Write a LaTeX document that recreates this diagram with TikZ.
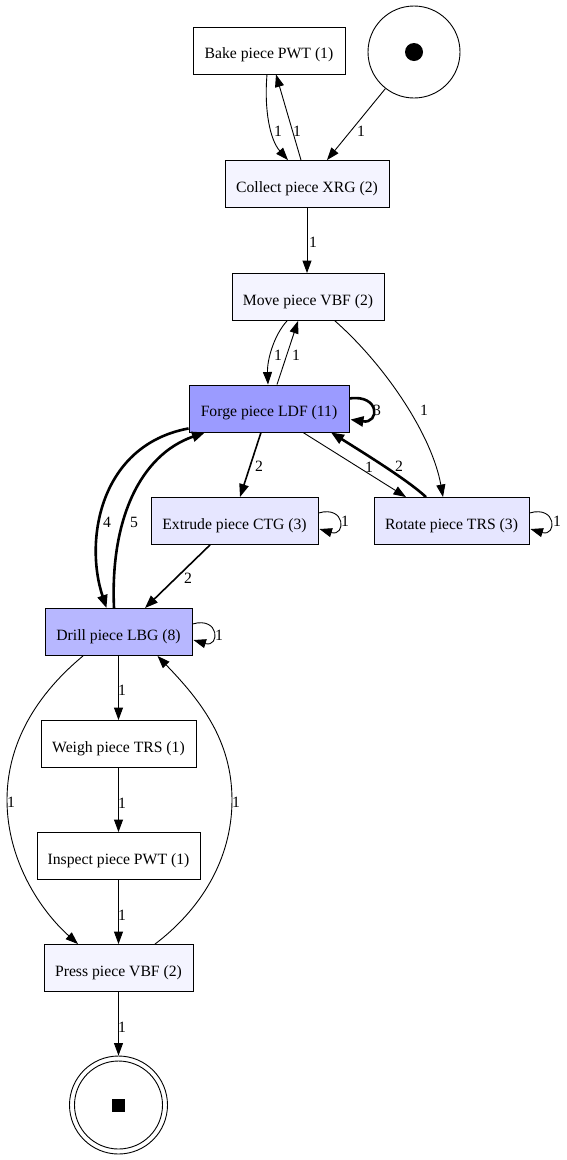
\documentclass[tikz,border=0pt]{standalone}
\usepackage{fontspec}
\setmainfont{Liberation Serif}
\usetikzlibrary{arrows.meta}
\definecolor{pale}{RGB}{244,244,255}
\definecolor{light}{RGB}{230,230,255}
\definecolor{drillblue}{RGB}{183,183,255}
\definecolor{forgeblue}{RGB}{155,155,255}
\begin{document}
\begin{tikzpicture}[x=1pt,y=-1pt,
  font=\fontsize{15.7}{18}\selectfont,
  trans/.style={draw,rectangle,line width=0.9pt,minimum height=47pt,inner sep=0pt,
    text height=16pt,text depth=0pt},
  place/.style={draw,circle,line width=0.9pt,inner sep=0pt},
  arc/.style={line width=0.9pt,-{Triangle[length=12.5pt,width=9pt]}},
  mid/.style={line width=1.6pt,-{Triangle[length=13pt,width=9.5pt]}},
  heavy/.style={line width=2.6pt,-{Triangle[length=13pt,width=10pt]}},
  lbl/.style={inner sep=0pt}]
\useasboundingbox (0,0) rectangle (567,1160);

% places and transitions
\node[trans,minimum width=152pt] (bake) at (269,50.5) {Bake piece PWT (1)};
\node[place,minimum size=92pt] (src) at (414,52) {};
\fill (src.center) circle (9pt);
\node[trans,fill=pale,minimum width=164pt] (collect) at (307,184) {Collect piece XRG (2)};
\node[trans,fill=pale,minimum width=152pt] (move) at (308,297) {Move piece VBF (2)};
\node[trans,fill=forgeblue,minimum width=160pt] (forge) at (269,408.5) {Forge piece LDF (11)};
\node[trans,fill=light,minimum width=167pt] (extrude) at (234.5,521) {Extrude piece CTG (3)};
\node[trans,fill=light,minimum width=155pt] (rotate) at (451.5,521) {Rotate piece TRS (3)};
\node[trans,fill=drillblue,minimum width=147pt] (drill) at (118.5,632) {Drill piece LBG (8)};
\node[trans,minimum width=155pt] (weigh) at (118.5,744) {Weigh piece TRS (1)};
\node[trans,minimum width=163pt] (inspect) at (118.5,856) {Inspect piece PWT (1)};
\node[trans,fill=pale,minimum width=149pt] (press) at (118.5,968) {Press piece VBF (2)};
\node[place,minimum size=98pt] (sink) at (118.5,1105) {};
\draw[line width=0.9pt] (sink.center) circle (44pt);
\fill ([xshift=-6.5pt,yshift=-6.5pt]sink.center) rectangle ([xshift=6.5pt,yshift=6.5pt]sink.center);

% arcs
\draw[arc] ([xshift=-2pt]bake.south) .. controls (264,110) and (270,140) .. ([xshift=-19pt]collect.north);
\draw[arc] ([xshift=-6pt]collect.north) -- ([xshift=7pt]bake.south);
\draw[arc] (src.232) -- ([xshift=20pt]collect.north);
\draw[arc] (collect.south) -- ([xshift=-1pt]move.north);
\draw[arc] ([xshift=-21pt]move.south) .. controls (274,335) and (267,360) .. ([xshift=-1pt]forge.north);
\draw[arc] ([xshift=8pt]forge.north) -- ([xshift=-10pt]move.south);
\draw[arc] ([xshift=27pt]move.south) .. controls (385,365) and (432,435) .. ([xshift=-8.5pt]rotate.north);
\draw[heavy] ([yshift=10pt]forge.east) .. controls (380,394) and (380,424) .. ([yshift=-11pt,xshift=1pt]forge.east);
\draw[mid] ([xshift=-8pt]forge.south) -- ([xshift=5.5pt]extrude.north);
\draw[arc] ([xshift=34pt]forge.south) -- ([xshift=-45.5pt]rotate.north);
\draw[heavy] ([xshift=-25.5pt]rotate.north) .. controls (410,482) and (372,458) .. ([xshift=62pt]forge.south);
\draw[heavy] ([yshift=4pt]forge.south west) .. controls (100,445) and (84,540) .. ([xshift=-12pt]drill.north);
\draw[heavy] ([xshift=-4.5pt]drill.north) .. controls (110,520) and (140,455) .. ([xshift=-64pt]forge.south);
\draw[arc] ([yshift=8pt]extrude.east) .. controls (346,505) and (346,537) .. ([yshift=-8pt,xshift=1pt]extrude.east);
\draw[arc] ([yshift=8pt]rotate.east) .. controls (557,505) and (557,537) .. ([yshift=-8pt,xshift=1pt]rotate.east);
\draw[mid] ([xshift=-24.5pt]extrude.south) -- ([xshift=26.5pt]drill.north);
\draw[arc] ([yshift=8pt]drill.east) .. controls (220,616) and (220,648) .. ([yshift=-8pt,xshift=1pt]drill.east);
\draw[arc] (drill.south) -- (weigh.north);
\draw[arc] (weigh.south) -- (inspect.north);
\draw[arc] (inspect.south) -- (press.north);
\draw[arc] (press.south) -- (sink.north);
\draw[arc] ([xshift=-35.5pt]drill.south) .. controls (30,700) and (7,750) .. (7,800)
  .. controls (7,860) and (40,910) .. ([xshift=-40.5pt]press.north);
\draw[arc] ([xshift=36.5pt]press.north) .. controls (200,910) and (232,860) .. (232,800)
  .. controls (232,740) and (200,700) .. ([xshift=39pt]drill.south);

% arc weights
\node[lbl] (w1) at (278,131) {1};
\node[lbl] (w2) at (297,131) {1};
\node[lbl] (w3) at (361,131) {1};
\node[lbl] (w4) at (313,242) {1};
\node[lbl] (w5) at (278,355) {1};
\node[lbl] (w6) at (296,355) {1};
\node[lbl] (w7) at (424,410) {1};
\node[lbl] (w8) at (377,410) {3};
\node[lbl] (w9) at (259,466) {2};
\node[lbl] (w10) at (369,467) {1};
\node[lbl] (w11) at (399,466) {2};
\node[lbl] (w12) at (107,522) {4};
\node[lbl] (w13) at (134,522) {5};
\node[lbl] (w14) at (345,521) {1};
\node[lbl] (w15) at (557,521) {1};
\node[lbl] (w16) at (188,578) {2};
\node[lbl] (w17) at (219,635) {1};
\node[lbl] (w18) at (122,690) {1};
\node[lbl] (w19) at (122,803) {1};
\node[lbl] (w20) at (122,915) {1};
\node[lbl] (w21) at (122,1027) {1};
\node[lbl] (w22) at (11,802) {1};
\node[lbl] (w23) at (236,802) {1};
\end{tikzpicture}
\end{document}
